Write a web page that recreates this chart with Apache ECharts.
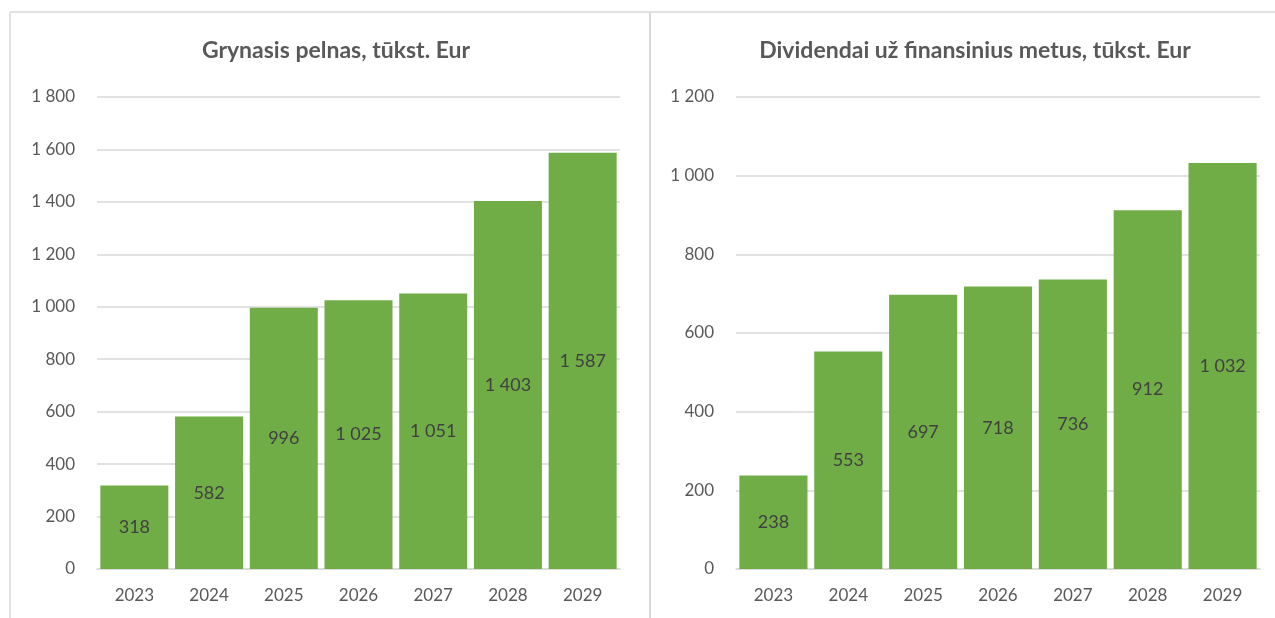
<!DOCTYPE html>
<html>
<head>
<meta charset="utf-8">
<script src="https://cdn.jsdelivr.net/npm/echarts@6/dist/echarts.min.js"></script>
<style>
  html, body { margin: 0; padding: 0; background: #fff; }
  #chart { width: 1275px; height: 618px; }
</style>
</head>
<body>
<div id="chart"></div>
<script>
// duomenys
const years = ['2023', '2024', '2025', '2026', '2027', '2028', '2029'];
const netProfit = [318, 582, 996, 1025, 1051, 1403, 1587];
const dividends = [238, 553, 697, 718, 736, 912, 1032];
const titles = ['Grynasis pelnas, tūkst. Eur', 'Dividendai už finansinius metus, tūkst. Eur'];

const FONT = 'Lato, "Open Sans", sans-serif';
const GREEN = '#70ad47';
const LINE = '#d9d9d9';

// tūkstančių skyriklis - tarpas
function fmt(v) {
    return String(v).replace(/\B(?=(\d{3})+(?!\d))/g, ' ');
}

function xAxis(gridIndex) {
    return {
        type: 'category',
        gridIndex: gridIndex,
        data: years,
        axisTick: { show: false },
        axisLine: { lineStyle: { color: LINE, width: 1.5 } },
        axisLabel: { color: '#595959', fontSize: 17, fontFamily: FONT, margin: 18 }
    };
}

function yAxis(gridIndex, max) {
    return {
        type: 'value',
        gridIndex: gridIndex,
        min: 0,
        max: max,
        interval: 200,
        axisLine: { show: false },
        axisTick: { show: false },
        splitLine: { lineStyle: { color: LINE, width: 1.5 } },
        axisLabel: { color: '#595959', fontSize: 17, fontFamily: FONT, margin: 22, formatter: fmt }
    };
}

function barSeries(idx, data) {
    return {
        type: 'bar',
        xAxisIndex: idx,
        yAxisIndex: idx,
        data: data,
        barCategoryGap: '9%',
        itemStyle: { color: GREEN },
        label: {
            show: true,
            position: 'inside',
            color: '#404040',
            fontSize: 18,
            fontFamily: FONT,
            formatter: p => fmt(p.value)
        }
    };
}

const chart = echarts.init(document.getElementById('chart'));
chart.setOption({
    animation: false,
    backgroundColor: '#fff',
    title: [
        { text: titles[0], left: 331, top: 34, textAlign: 'center',
          textStyle: { color: '#595959', fontSize: 23, fontWeight: 'bold', fontFamily: FONT } },
        { text: titles[1], left: 970, top: 34, textAlign: 'center',
          textStyle: { color: '#595959', fontSize: 23, fontWeight: 'bold', fontFamily: FONT } }
    ],
    grid: [
        { left: 97, right: 655, top: 97, bottom: 49 },
        { left: 736, right: 15, top: 97, bottom: 49 }
    ],
    xAxis: [xAxis(0), xAxis(1)],
    yAxis: [yAxis(0, 1800), yAxis(1, 1200)],
    series: [barSeries(0, netProfit), barSeries(1, dividends)],
    graphic: [
        // rėmeliai
        { type: 'line', shape: { x1: 10, y1: 12, x2: 1275, y2: 12 }, style: { stroke: LINE, lineWidth: 1.5 } },
        { type: 'line', shape: { x1: 10, y1: 12, x2: 10, y2: 618 }, style: { stroke: LINE, lineWidth: 1.5 } },
        { type: 'line', shape: { x1: 650, y1: 12, x2: 650, y2: 618 }, style: { stroke: LINE, lineWidth: 2 } }
    ]
});
</script>
</body>
</html>
